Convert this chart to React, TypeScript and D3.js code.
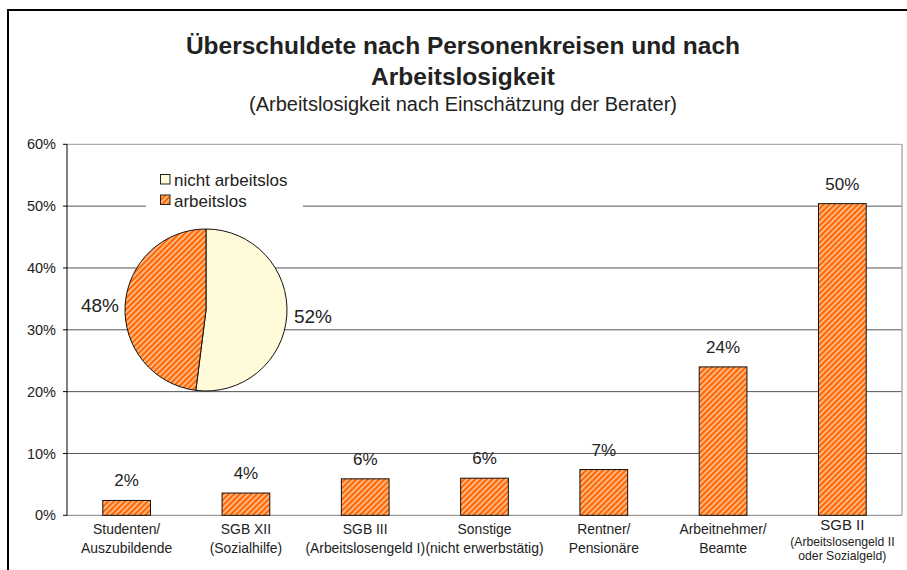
import React from "react";
import * as d3 from "d3";

const categories = [
  "Studenten/Auszubildende",
  "SGB XII",
  "SGB III",
  "Sonstige",
  "Rentner/Pensionäre",
  "Arbeitnehmer/Beamte",
  "SGB II",
];
const categoryLines: string[][] = [
  ["Studenten/", "Auszubildende"],
  ["SGB XII", "(Sozialhilfe)"],
  ["SGB III", "(Arbeitslosengeld I)"],
  ["Sonstige", "(nicht erwerbstätig)"],
  ["Rentner/", "Pensionäre"],
  ["Arbeitnehmer/", "Beamte"],
  ["SGB II", "(Arbeitslosengeld II", "oder Sozialgeld)"],
];
const barValues = [2.4, 3.6, 5.9, 6.0, 7.4, 24.0, 50.4];
const yTicks = [0, 10, 20, 30, 40, 50, 60];
const pieLabels = ["nicht arbeitslos", "arbeitslos"];
const pieValues = [52, 48];

const W = 907;
const H = 570;
const FONT = "'Liberation Sans', Arial, sans-serif";
const ORANGE = "#FF6600";
const CREAM = "#FFFAD8";
const TEXT = "#222";

export default function App() {
  const left = 67;
  const right = 902;
  const top = 144.3;
  const bottom = 515.3;

  const y = d3.scaleLinear().domain([0, 60]).range([bottom, top]);
  const x = d3
    .scaleBand<string>()
    .domain(categories)
    .range([left, right])
    .paddingInner(0.6)
    .paddingOuter(0.3);

  const pieCx = 206;
  const pieCy = 310;
  const pieR = 81;
  const pie = d3
    .pie<number>()
    .sort(null)
    .startAngle(0)
    .endAngle(2 * Math.PI)(pieValues);
  const arc = d3.arc<d3.PieArcDatum<number>>().innerRadius(0).outerRadius(pieR);
  const pieFill = [CREAM, "url(#hatch)"];
  const pieLabelPos = [
    { x: 313, y: 323 },
    { x: 100, y: 312 },
  ];

  return (
    <div style={{ position: "absolute", left: 0, top: 0 }}>
      <svg width={W} height={H} style={{ display: "block", background: "#fff" }} fontFamily={FONT}>
        <defs>
          <pattern
            id="hatch"
            patternUnits="userSpaceOnUse"
            width={4}
            height={4}
            patternTransform="rotate(45)"
          >
            <rect width={4} height={4} fill={ORANGE} />
            <line x1={1} y1={0} x2={1} y2={4} stroke="#FFE2C8" strokeWidth={1.3} />
          </pattern>
        </defs>

        {/* outer frame */}
        <rect x={8} y={10} width={W + 20} height={H + 20} fill="#fff" stroke="#000" strokeWidth={2} />

        {/* title */}
        <text x={463} y={54} textAnchor="middle" fontSize={24.5} fontWeight="bold" fill={TEXT}>
          Überschuldete nach Personenkreisen und nach
        </text>
        <text x={463} y={85} textAnchor="middle" fontSize={24.5} fontWeight="bold" fill={TEXT}>
          Arbeitslosigkeit
        </text>
        <text x={463} y={111} textAnchor="middle" fontSize={20} fill={TEXT}>
          (Arbeitslosigkeit nach Einschätzung der Berater)
        </text>

        {/* gridlines */}
        {yTicks
          .filter((t) => t > 0)
          .map((t) => (
            <line
              key={"g" + t}
              x1={left}
              x2={right}
              y1={y(t)}
              y2={y(t)}
              stroke={t === 60 ? "#999" : "#555"}
              strokeWidth={1}
            />
          ))}
        <line x1={left} x2={right} y1={y(0)} y2={y(0)} stroke="#999" strokeWidth={1.2} />
        <line x1={right} x2={right} y1={top} y2={bottom} stroke="#999" strokeWidth={1.2} />

        {/* y axis */}
        <line x1={left} x2={left} y1={top} y2={bottom} stroke="#000" strokeWidth={1} />
        {yTicks.map((t) => (
          <g key={"t" + t}>
            <line x1={left - 4} x2={left} y1={y(t)} y2={y(t)} stroke="#000" />
            <text x={56} y={y(t)} dy="0.35em" textAnchor="end" fontSize={14.5} fill={TEXT}>
              {t}%
            </text>
          </g>
        ))}

        {/* bars */}
        {categories.map((c, i) => (
          <g key={"b" + c}>
            <rect
              x={x(c)}
              y={y(barValues[i])}
              width={x.bandwidth()}
              height={y(0) - y(barValues[i])}
              fill="url(#hatch)"
              stroke="#111"
              strokeWidth={1}
            />
            <text
              x={(x(c) as number) + x.bandwidth() / 2}
              y={y(barValues[i]) - 14}
              textAnchor="middle"
              fontSize={17}
              fill={TEXT}
            >
              {Math.round(barValues[i])}%
            </text>
          </g>
        ))}

        {/* x labels */}
        {categories.map((c, i) => {
          const cx = (x(c) as number) + x.bandwidth() / 2;
          const lines = categoryLines[i];
          if (lines.length === 3) {
            return (
              <g key={"l" + c}>
                <text x={cx} y={529.5} textAnchor="middle" fontSize={15} fill={TEXT}>
                  {lines[0]}
                </text>
                <text x={cx} y={546} textAnchor="middle" fontSize={12.2} fill={TEXT}>
                  {lines[1]}
                </text>
                <text x={cx} y={559.5} textAnchor="middle" fontSize={12.2} fill={TEXT}>
                  {lines[2]}
                </text>
              </g>
            );
          }
          return (
            <g key={"l" + c}>
              {lines.map((ln, j) => (
                <text key={j} x={cx} y={533.5 + j * 19} textAnchor="middle" fontSize={13.9} fill={TEXT}>
                  {ln}
                </text>
              ))}
            </g>
          );
        })}

        {/* legend */}
        <rect x={146} y={166} width={157} height={46} fill="#fff" />
        {pieLabels.map((l, i) => (
          <g key={"lg" + l}>
            <rect
              x={160.5}
              y={174.5 + i * 20.5}
              width={9.5}
              height={9.5}
              fill={pieFill[i]}
              stroke="#222"
              strokeWidth={1}
            />
            <text x={174} y={186 + i * 20.5} fontSize={17} fill={TEXT}>
              {l}
            </text>
          </g>
        ))}

        {/* pie */}
        <g transform={`translate(${pieCx},${pieCy})`}>
          {pie.map((d, i) => (
            <path key={"p" + i} d={arc(d) as string} fill={pieFill[i]} stroke="#111" strokeWidth={1} />
          ))}
        </g>
        {pie.map((d, i) => (
          <text
            key={"pl" + i}
            x={pieLabelPos[i].x}
            y={pieLabelPos[i].y}
            textAnchor="middle"
            fontSize={19}
            fill={TEXT}
          >
            {pieValues[i]}%
          </text>
        ))}
      </svg>
    </div>
  );
}
